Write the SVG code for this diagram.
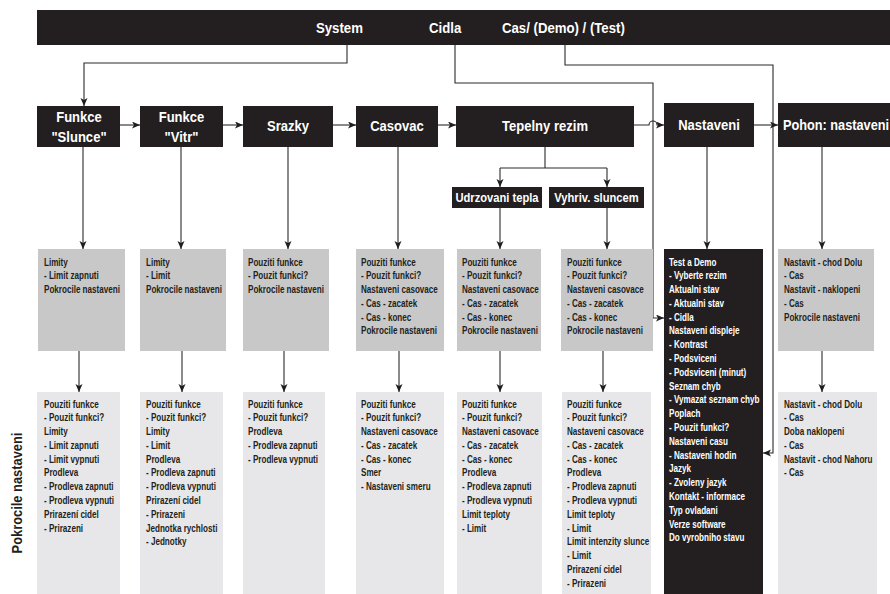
<svg xmlns="http://www.w3.org/2000/svg" width="890" height="594" viewBox="0 0 890 594">
<style>
text{font-family:"Liberation Sans",Arial,sans-serif;font-weight:bold}
.hdr{fill:#fff;font-size:15px}
.nt{fill:#fff;font-size:15px;text-anchor:middle}
.st{fill:#fff;font-size:13px;text-anchor:middle}
.lt{fill:#231f20;font-size:10px}
.lw{fill:#fff;font-size:10px}
.blk{fill:#231f20}
.g1{fill:#c8c8c9}
.g2{fill:#e7e7e9}
.c{fill:none;stroke:#2b2b2b;stroke-width:1.1}
</style>
<defs>
<marker id="ah" markerUnits="userSpaceOnUse" markerWidth="9" markerHeight="8" refX="8" refY="3.5" orient="auto">
<path d="M0,0 L8,3.5 L0,7 L2,3.5 z" fill="#1e1e1e"/>
</marker>
</defs>
<rect x="0" y="0" width="890" height="594" fill="#fff"/>

<g id="topbar">
<rect class="blk" x="37" y="10" width="853" height="35"/>
<text class="hdr" transform="translate(316,33) scale(0.88,1)">System</text>
<text class="hdr" transform="translate(429,33) scale(0.88,1)">Cidla</text>
<text class="hdr" transform="translate(502,33) scale(0.88,1)">Cas/ (Demo) / (Test)</text>
</g>

<g id="connectors">
<path class="c" d="M347,45 V63 H84 V106" marker-end="url(#ah)"/>
<path class="c" d="M455,45 V83 H653 V318 H664" marker-end="url(#ah)"/>
<path class="c" d="M565,45 V65 H773 V453 H763" marker-end="url(#ah)"/>
<path class="c" d="M120,125 H140" marker-end="url(#ah)"/>
<path class="c" d="M223,125 H243" marker-end="url(#ah)"/>
<path class="c" d="M333,125 H356" marker-end="url(#ah)"/>
<path class="c" d="M438,125 H456" marker-end="url(#ah)"/>
<path class="c" d="M634,125 H649 A4,4 0 0 1 657,125 H664" marker-end="url(#ah)"/>
<path class="c" d="M754,125 H778" marker-end="url(#ah)"/>
<path class="c" d="M545,147 V168 M500,168 H607"/>
<path class="c" d="M500,168 V187" marker-end="url(#ah)"/>
<path class="c" d="M607,168 V187" marker-end="url(#ah)"/>
<path class="c" d="M83,147 V249" marker-end="url(#ah)"/>
<path class="c" d="M181,147 V249" marker-end="url(#ah)"/>
<path class="c" d="M288,147 V249" marker-end="url(#ah)"/>
<path class="c" d="M398,147 V249" marker-end="url(#ah)"/>
<path class="c" d="M500,208 V249" marker-end="url(#ah)"/>
<path class="c" d="M607,208 V249" marker-end="url(#ah)"/>
<path class="c" d="M707,147 V249" marker-end="url(#ah)"/>
<path class="c" d="M822,147 V249" marker-end="url(#ah)"/>
<path class="c" d="M79,351 V392" marker-end="url(#ah)"/>
<path class="c" d="M182,351 V392" marker-end="url(#ah)"/>
<path class="c" d="M284,351 V392" marker-end="url(#ah)"/>
<path class="c" d="M399,351 V392" marker-end="url(#ah)"/>
<path class="c" d="M500,351 V392" marker-end="url(#ah)"/>
<path class="c" d="M603,351 V392" marker-end="url(#ah)"/>
<path class="c" d="M822,351 V392" marker-end="url(#ah)"/>
</g>

<g id="n-slunce"><rect class="blk" x="37" y="106" width="83" height="41"/>
<text class="nt" transform="translate(79,122) scale(0.87,1)">Funkce</text><text class="nt" transform="translate(79,142) scale(0.87,1)">"Slunce"</text></g>
<g id="n-vitr"><rect class="blk" x="140" y="106" width="83" height="41"/>
<text class="nt" transform="translate(181.5,122) scale(0.87,1)">Funkce</text><text class="nt" transform="translate(181.5,142) scale(0.87,1)">"Vitr"</text></g>
<g id="n-srazky"><rect class="blk" x="243" y="106" width="90" height="41"/>
<text class="nt" transform="translate(288,131) scale(0.87,1)">Srazky</text></g>
<g id="n-casovac"><rect class="blk" x="356" y="106" width="82" height="41"/>
<text class="nt" transform="translate(397,131) scale(0.87,1)">Casovac</text></g>
<g id="n-tepelny"><rect class="blk" x="456" y="106" width="178" height="41"/>
<text class="nt" transform="translate(545,131) scale(0.87,1)">Tepelny rezim</text></g>
<g id="n-nastaveni"><rect class="blk" x="664" y="103" width="90" height="44"/>
<text class="nt" transform="translate(709,130) scale(0.87,1)">Nastaveni</text></g>
<g id="n-pohon"><rect class="blk" x="778" y="103" width="112" height="44"/>
<text class="nt" transform="translate(836,130) scale(0.85,1)">Pohon: nastaveni</text></g>
<g id="n-udrzovani"><rect class="blk" x="452" y="187" width="90" height="21"/>
<text class="st" transform="translate(497,202) scale(0.86,1)">Udrzovani tepla</text></g>
<g id="n-vyhriv"><rect class="blk" x="549" y="187" width="95" height="21"/>
<text class="st" transform="translate(596.5,202) scale(0.86,1)">Vyhriv. sluncem</text></g>

<g id="r1-slunce"><rect class="g1" x="38" y="249" width="87" height="102"/>
<text class="lt" transform="translate(44,265.5) scale(0.81,1)"><tspan x="0">Limity</tspan><tspan x="0" dy="13.8">- Limit zapnuti</tspan><tspan x="0" dy="13.8">Pokrocile nastaveni</tspan></text></g>
<g id="r1-vitr"><rect class="g1" x="140" y="249" width="86" height="102"/>
<text class="lt" transform="translate(146,265.5) scale(0.81,1)"><tspan x="0">Limity</tspan><tspan x="0" dy="13.8">- Limit</tspan><tspan x="0" dy="13.8">Pokrocile nastaveni</tspan></text></g>
<g id="r1-srazky"><rect class="g1" x="243" y="249" width="86" height="102"/>
<text class="lt" transform="translate(248,265.5) scale(0.81,1)"><tspan x="0">Pouziti funkce</tspan><tspan x="0" dy="13.8">- Pouzit funkci?</tspan><tspan x="0" dy="13.8">Pokrocile nastaveni</tspan></text></g>
<g id="r1-casovac"><rect class="g1" x="356" y="249" width="88" height="102"/>
<text class="lt" transform="translate(361,265.5) scale(0.81,1)"><tspan x="0">Pouziti funkce</tspan><tspan x="0" dy="13.8">- Pouzit funkci?</tspan><tspan x="0" dy="13.8">Nastaveni casovace</tspan><tspan x="0" dy="13.8">- Cas - zacatek</tspan><tspan x="0" dy="13.8">- Cas - konec</tspan><tspan x="0" dy="13.8">Pokrocile nastaveni</tspan></text></g>
<g id="r1-udrzovani"><rect class="g1" x="457" y="249" width="84" height="102"/>
<text class="lt" transform="translate(462,265.5) scale(0.81,1)"><tspan x="0">Pouziti funkce</tspan><tspan x="0" dy="13.8">- Pouzit funkci?</tspan><tspan x="0" dy="13.8">Nastaveni casovace</tspan><tspan x="0" dy="13.8">- Cas - zacatek</tspan><tspan x="0" dy="13.8">- Cas - konec</tspan><tspan x="0" dy="13.8">Pokrocile nastaveni</tspan></text></g>
<g id="r1-vyhriv"><rect class="g1" x="561" y="249" width="92" height="102"/>
<text class="lt" transform="translate(567,265.5) scale(0.81,1)"><tspan x="0">Pouziti funkce</tspan><tspan x="0" dy="13.8">- Pouzit funkci?</tspan><tspan x="0" dy="13.8">Nastaveni casovace</tspan><tspan x="0" dy="13.8">- Cas - zacatek</tspan><tspan x="0" dy="13.8">- Cas - konec</tspan><tspan x="0" dy="13.8">Pokrocile nastaveni</tspan></text></g>
<g id="r1-nastaveni"><rect class="blk" x="664" y="249" width="99" height="345"/>
<text class="lw" transform="translate(669,265.5) scale(0.81,1)"><tspan x="0">Test a Demo</tspan><tspan x="0" dy="13.8">- Vyberte rezim</tspan><tspan x="0" dy="13.8">Aktualni stav</tspan><tspan x="0" dy="13.8">- Aktualni stav</tspan><tspan x="0" dy="13.8">- Cidla</tspan><tspan x="0" dy="13.8">Nastaveni displeje</tspan><tspan x="0" dy="13.8">- Kontrast</tspan><tspan x="0" dy="13.8">- Podsviceni</tspan><tspan x="0" dy="13.8">- Podsviceni (minut)</tspan><tspan x="0" dy="13.8">Seznam chyb</tspan><tspan x="0" dy="13.8">- Vymazat seznam chyb</tspan><tspan x="0" dy="13.8">Poplach</tspan><tspan x="0" dy="13.8">- Pouzit funkci?</tspan><tspan x="0" dy="13.8">Nastaveni casu</tspan><tspan x="0" dy="13.8">- Nastaveni hodin</tspan><tspan x="0" dy="13.8">Jazyk</tspan><tspan x="0" dy="13.8">- Zvoleny jazyk</tspan><tspan x="0" dy="13.8">Kontakt - informace</tspan><tspan x="0" dy="13.8">Typ ovladani</tspan><tspan x="0" dy="13.8">Verze software</tspan><tspan x="0" dy="13.8">Do vyrobniho stavu</tspan></text></g>
<g id="r1-pohon"><rect class="g1" x="778" y="249" width="96" height="102"/>
<text class="lt" transform="translate(784,265.5) scale(0.81,1)"><tspan x="0">Nastavit - chod Dolu</tspan><tspan x="0" dy="13.8">- Cas</tspan><tspan x="0" dy="13.8">Nastavit - naklopeni</tspan><tspan x="0" dy="13.8">- Cas</tspan><tspan x="0" dy="13.8">Pokrocile nastaveni</tspan></text></g>

<g id="r2-slunce"><rect class="g2" x="37" y="392" width="83" height="202"/>
<text class="lt" transform="translate(44,407.5) scale(0.81,1)"><tspan x="0">Pouziti funkce</tspan><tspan x="0" dy="13.8">- Pouzit funkci?</tspan><tspan x="0" dy="13.8">Limity</tspan><tspan x="0" dy="13.8">- Limit zapnuti</tspan><tspan x="0" dy="13.8">- Limit vypnuti</tspan><tspan x="0" dy="13.8">Prodleva</tspan><tspan x="0" dy="13.8">- Prodleva zapnuti</tspan><tspan x="0" dy="13.8">- Prodleva vypnuti</tspan><tspan x="0" dy="13.8">Prirazení cidel</tspan><tspan x="0" dy="13.8">- Prirazeni</tspan></text></g>
<g id="r2-vitr"><rect class="g2" x="140" y="392" width="83" height="202"/>
<text class="lt" transform="translate(146,407.5) scale(0.81,1)"><tspan x="0">Pouziti funkce</tspan><tspan x="0" dy="13.8">- Pouzit funkci?</tspan><tspan x="0" dy="13.8">Limity</tspan><tspan x="0" dy="13.8">- Limit</tspan><tspan x="0" dy="13.8">Prodleva</tspan><tspan x="0" dy="13.8">- Prodleva zapnuti</tspan><tspan x="0" dy="13.8">- Prodleva vypnuti</tspan><tspan x="0" dy="13.8">Prirazení cidel</tspan><tspan x="0" dy="13.8">- Prirazeni</tspan><tspan x="0" dy="13.8">Jednotka rychlosti</tspan><tspan x="0" dy="13.8">- Jednotky</tspan></text></g>
<g id="r2-srazky"><rect class="g2" x="243" y="392" width="82" height="202"/>
<text class="lt" transform="translate(248,407.5) scale(0.81,1)"><tspan x="0">Pouziti funkce</tspan><tspan x="0" dy="13.8">- Pouzit funkci?</tspan><tspan x="0" dy="13.8">Prodleva</tspan><tspan x="0" dy="13.8">- Prodleva zapnuti</tspan><tspan x="0" dy="13.8">- Prodleva vypnuti</tspan></text></g>
<g id="r2-casovac"><rect class="g2" x="356" y="392" width="88" height="202"/>
<text class="lt" transform="translate(361,407.5) scale(0.81,1)"><tspan x="0">Pouziti funkce</tspan><tspan x="0" dy="13.8">- Pouzit funkci?</tspan><tspan x="0" dy="13.8">Nastaveni casovace</tspan><tspan x="0" dy="13.8">- Cas - zacatek</tspan><tspan x="0" dy="13.8">- Cas - konec</tspan><tspan x="0" dy="13.8">Smer</tspan><tspan x="0" dy="13.8">- Nastaveni smeru</tspan></text></g>
<g id="r2-udrzovani"><rect class="g2" x="457" y="392" width="85" height="202"/>
<text class="lt" transform="translate(462,407.5) scale(0.81,1)"><tspan x="0">Pouziti funkce</tspan><tspan x="0" dy="13.8">- Pouzit funkci?</tspan><tspan x="0" dy="13.8">Nastaveni casovace</tspan><tspan x="0" dy="13.8">- Cas - zacatek</tspan><tspan x="0" dy="13.8">- Cas - konec</tspan><tspan x="0" dy="13.8">Prodleva</tspan><tspan x="0" dy="13.8">- Prodleva zapnuti</tspan><tspan x="0" dy="13.8">- Prodleva vypnuti</tspan><tspan x="0" dy="13.8">Limit teploty</tspan><tspan x="0" dy="13.8">- Limit</tspan></text></g>
<g id="r2-vyhriv"><rect class="g2" x="562" y="392" width="89" height="202"/>
<text class="lt" transform="translate(567,407.5) scale(0.81,1)"><tspan x="0">Pouziti funkce</tspan><tspan x="0" dy="13.8">- Pouzit funkci?</tspan><tspan x="0" dy="13.8">Nastaveni casovace</tspan><tspan x="0" dy="13.8">- Cas - zacatek</tspan><tspan x="0" dy="13.8">- Cas - konec</tspan><tspan x="0" dy="13.8">Prodleva</tspan><tspan x="0" dy="13.8">- Prodleva zapnuti</tspan><tspan x="0" dy="13.8">- Prodleva vypnuti</tspan><tspan x="0" dy="13.8">Limit teploty</tspan><tspan x="0" dy="13.8">- Limit</tspan><tspan x="0" dy="13.8">Limit intenzity slunce</tspan><tspan x="0" dy="13.8">- Limit</tspan><tspan x="0" dy="13.8">Prirazení cidel</tspan><tspan x="0" dy="13.8">- Prirazeni</tspan></text></g>
<g id="r2-pohon"><rect class="g2" x="778" y="392" width="99" height="202"/>
<text class="lt" transform="translate(784,407.5) scale(0.81,1)"><tspan x="0">Nastavit - chod Dolu</tspan><tspan x="0" dy="13.8">- Cas</tspan><tspan x="0" dy="13.8">Doba naklopeni</tspan><tspan x="0" dy="13.8">- Cas</tspan><tspan x="0" dy="13.8">Nastavit - chod Nahoru</tspan><tspan x="0" dy="13.8">- Cas</tspan></text></g>

<g id="side-label">
<text transform="translate(22,493) rotate(-90) scale(0.92,1)" text-anchor="middle" style="font-size:14px;fill:#231f20">Pokrocile nastaveni</text>
</g>
</svg>
